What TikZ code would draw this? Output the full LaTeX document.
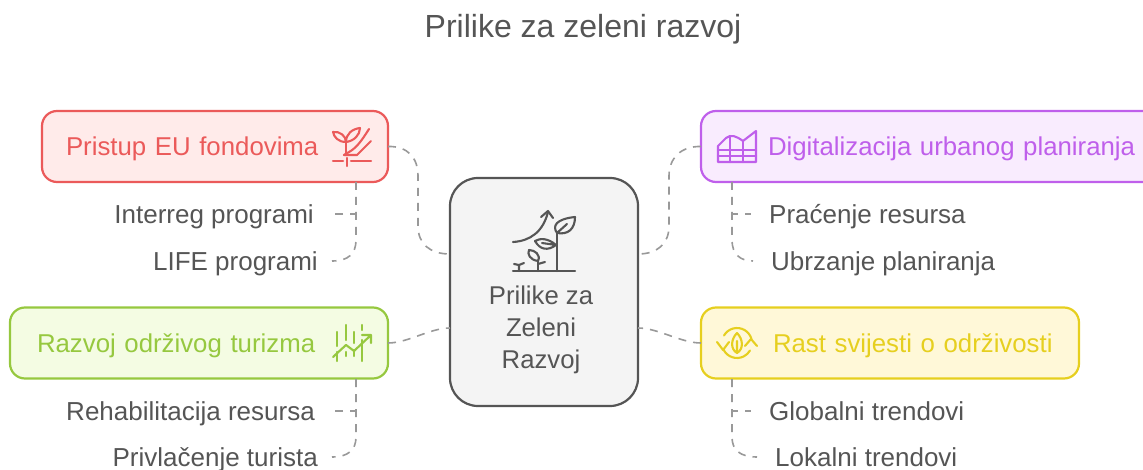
\documentclass[tikz,border=0pt]{standalone}
\usepackage{fontspec}
\setmainfont{Liberation Sans}
\usetikzlibrary{positioning, arrows.meta}
\definecolor{redColor}{HTML}{EB5A5A}
\definecolor{redFill}{HTML}{FFEBEA}
\definecolor{greenColor}{HTML}{96C83F}
\definecolor{greenFill}{HTML}{F4FCE3}
\definecolor{purpleColor}{HTML}{BF5FEB}
\definecolor{purpleFill}{HTML}{F9ECFE}
\definecolor{yellowColor}{HTML}{E6CF1F}
\definecolor{yellowFill}{HTML}{FFF8D8}
\definecolor{hubColor}{HTML}{555555}
\definecolor{hubFill}{HTML}{F4F4F4}
\definecolor{textColor}{HTML}{555555}
\definecolor{linkColor}{HTML}{999999}

\begin{document}
\begin{tikzpicture}[
  x=1pt, y=-1pt,
  mainbox/.style={
    rectangle,
    rounded corners=15pt,
    line width=2.2pt,
    minimum height=71pt,
    inner xsep=0pt,
    outer sep=0pt,
    align=left,
    text height=24pt,
    text depth=5pt,
    font=\fontsize{25.8}{30}\selectfont
  },
  hubbox/.style={
    rectangle,
    draw=hubColor,
    fill=hubFill,
    rounded corners=28pt,
    line width=2.2pt,
    minimum width=188pt,
    minimum height=228pt,
    outer sep=0pt
  },
  hubtext/.style={
    align=center,
    text=textColor,
    inner sep=0pt,
    font=\fontsize{25.7}{32}\selectfont
  },
  leafleft/.style={
    anchor=east,
    text=textColor,
    inner xsep=18pt,
    inner ysep=0pt,
    text height=24pt,
    text depth=5pt,
    font=\fontsize{26}{30}\selectfont
  },
  leafright/.style={
    leafleft,
    anchor=west
  },
  link/.style={
    draw=linkColor,
    line width=1.6pt,
    dash pattern=on 8pt off 7pt
  },
  iconline/.style={
    line width=2.1pt,
    line cap=round,
    line join=round
  }
]
  \useasboundingbox (0,0) rectangle (1143,470);
  \clip (0,0) rectangle (1143,470);

  % Title
  \node[text=textColor, inner sep=0pt, font=\fontsize{32}{36}\selectfont] (Title) at (583,29) {Prilike za zeleni razvoj};

  % Define nodes
  \node[hubbox] (Hub) at (544,292) {};
  \node[hubtext] (HubText) at (541,330) {Prilike za\\Zeleni\\Razvoj};

  \node[mainbox, draw=redColor, fill=redFill, text=redColor, text width=346pt] (Fondovi) at (215,146.5) {\hspace*{24pt}Pristup EU fondovima};
  \node[mainbox, draw=greenColor, fill=greenFill, text=greenColor, text width=378pt] (Turizam) at (199,343) {\hspace*{27pt}Razvoj održivog turizma};
  \node[mainbox, draw=purpleColor, fill=purpleFill, text=purpleColor, text width=459pt] (Digital) at (930.5,146.5) {\hspace*{67pt}Digitalizacija urbanog planiranja};
  \node[mainbox, draw=yellowColor, fill=yellowFill, text=yellowColor, text width=378pt] (Svijest) at (890,343) {\hspace*{72pt}Rast svijesti o održivosti};

  \node[leafleft] (Interreg) at (332,214) {Interreg programi};
  \node[leafleft, inner xsep=14pt] (Life) at (332,261) {LIFE programi};
  \node[leafleft, inner xsep=17pt] (Rehab) at (332,411) {Rehabilitacija resursa};
  \node[leafleft, inner xsep=14pt] (Turisti) at (332,457) {Privlačenje turista};
  \node[leafright] (Pracenje) at (751,214) {Praćenje resursa};
  \node[leafright] (Ubrzanje) at (753,261) {Ubrzanje planiranja};
  \node[leafright] (Globalni) at (751,411) {Globalni trendovi};
  \node[leafright] (Lokalni) at (757,457) {Lokalni trendovi};

  % Connection points
  \coordinate (HubUL) at (450,254);
  \coordinate (HubLL) at (450,328);
  \coordinate (HubUR) at (638,254);
  \coordinate (HubLR) at (638,328);
  \coordinate (FondoviDrop) at (356,182);
  \coordinate (TurizamDrop) at (356,379);
  \coordinate (DigitalDrop) at (732,182);
  \coordinate (SvijestDrop) at (732,379);

  % Connect nodes with links
  \draw[link] (Fondovi.east) .. controls (408,146) and (418,158) .. (418,176) -- (418,226) .. controls (418,244) and (430,254) .. (HubUL);
  \draw[link] (Turizam.east) .. controls (408,343) and (430,328) .. (HubLL);
  \draw[link] (Digital.west) .. controls (681,146) and (669,158) .. (669,176) -- (669,226) .. controls (669,244) and (657,254) .. (HubUR);
  \draw[link] (Svijest.west) .. controls (681,343) and (658,328) .. (HubLR);

  \draw[link] (FondoviDrop) |- (Interreg.east);
  \draw[link] (FondoviDrop) -- (356,240) .. controls (356,254) and (348,261) .. (Life.east);
  \draw[link] (TurizamDrop) |- (Rehab.east);
  \draw[link] (TurizamDrop) -- (356,437) .. controls (356,450) and (348,457) .. (Turisti.east);
  \draw[link] (DigitalDrop) |- (Pracenje.west);
  \draw[link] (DigitalDrop) -- (732,240) .. controls (732,254) and (740,261) .. (Ubrzanje.west);
  \draw[link] (SvijestDrop) |- (Globalni.west);
  \draw[link] (SvijestDrop) -- (732,437) .. controls (732,450) and (740,457) .. (Lokalni.west);

  % Hub icon
  \draw[iconline, hubColor] (513,271) -- (575,271);
  \draw[iconline, hubColor] (557,271) -- (557,233);
  \draw[iconline, hubColor] (557,233) .. controls (552,226) and (556,219) .. (575,217) .. controls (575,229) and (568,235) .. (557,233) -- (567,224);
  \draw[iconline, hubColor] (513,242) .. controls (530,241) and (543,232) .. (548,212);
  \draw[iconline, hubColor] (541,217) -- (548,211) -- (553,218);
  \draw[iconline, hubColor] (556,245) .. controls (548,238) and (540,238) .. (535,241) .. controls (540,250) and (548,251) .. (556,245) -- (542,243);
  \draw[iconline, hubColor] (538,271) -- (538,261);
  \draw[iconline, hubColor] (538,261) .. controls (530,260) and (527,254) .. (529,250) .. controls (535,250) and (541,255) .. (538,261);
  \draw[iconline, hubColor] (538,264) -- (545,262);
  \draw[iconline, hubColor] (519,271) -- (519,265) (514,264) -- (519,265) -- (524,263);

  % Fondovi icon
  \draw[iconline, redColor] (333,161) -- (343,161) (351,161) -- (371,161) (347,158) -- (347,166);
  \draw[iconline, redColor] (346,155) -- (346,142);
  \draw[iconline, redColor] (346,142) .. controls (338,142) and (334,137) .. (333,132) .. controls (340,131) and (346,136) .. (346,142);
  \draw[iconline, redColor] (346,142) .. controls (346,134) and (352,129) .. (360,128) .. controls (360,135) and (354,141) .. (346,142);
  \draw[iconline, redColor] (344,155) -- (357,155) -- (371,141);
  \draw[iconline, redColor] (344,155) .. controls (352,150) and (356,150) .. (369,129);

  % Turizam icon
  \draw[iconline, greenColor] (337,332) -- (337,346) (346,325) -- (346,340) (354,332) -- (354,343) (362,325) -- (362,330);
  \draw[iconline, greenColor] (337,352) -- (337,361) (346,352) -- (346,356) (354,350) -- (354,356) (362,340) -- (362,361);
  \draw[iconline, greenColor] (333,357) -- (346,345) -- (354,351) -- (371,335) (362,335) -- (371,335) -- (371,343);

  % Digital icon
  \draw[iconline, purpleColor] (718,162) -- (756,162) -- (756,131) -- (743,141) .. controls (736,136) and (731,134) .. (726,138) -- (718,146) -- cycle;
  \draw[iconline, purpleColor] (718,150) -- (756,150) (718,156) -- (756,156) (730,136) -- (730,162) (743,141) -- (743,162);

  % Svijest icon
  \draw[iconline, yellowColor] (737,343) ++(150:15pt) arc[start angle=150, end angle=16, radius=15pt];
  \draw[iconline, yellowColor] (737,343) ++(207:15pt) arc[start angle=207, end angle=330, radius=15pt];
  \draw[iconline, yellowColor] (717,342) -- (723,350) -- (729,342);
  \draw[iconline, yellowColor] (745,346) -- (751,339) -- (757,346);
  \draw[iconline, yellowColor] (737,333) .. controls (731,339) and (730,349) .. (737,353) .. controls (744,349) and (743,339) .. (737,333) (737,341) -- (737,353);
\end{tikzpicture}
\end{document}
